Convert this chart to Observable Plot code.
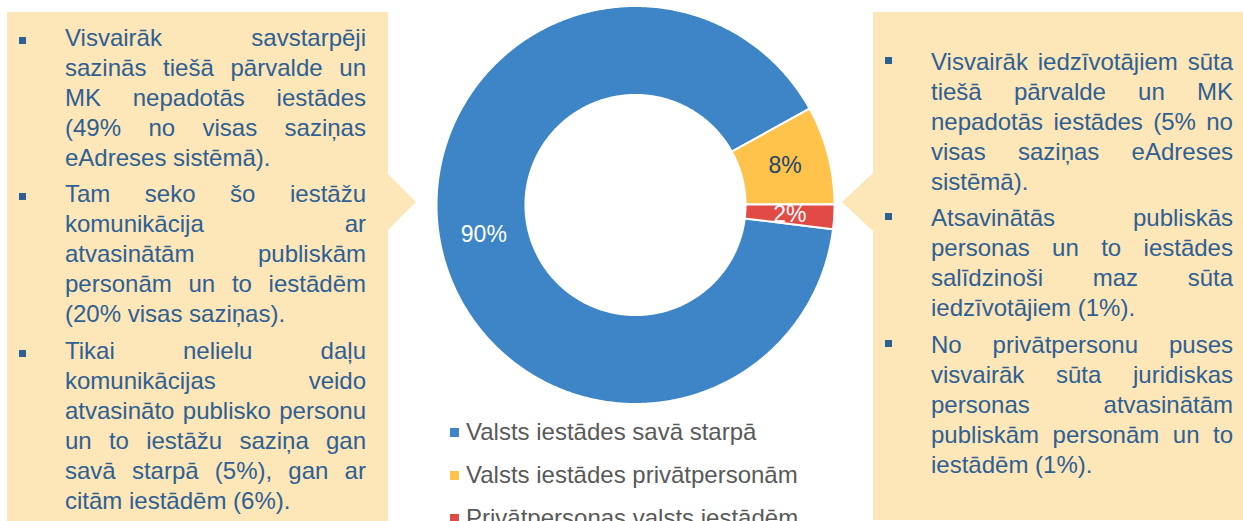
<!DOCTYPE html>
<html><head><meta charset="utf-8">
<script src="https://cdn.jsdelivr.net/npm/d3@7"></script>
<script src="https://cdn.jsdelivr.net/npm/@observablehq/plot@0.6"></script>
<style>
html,body{margin:0;padding:0;background:#fff;}
#wrap{position:relative;width:1243px;height:521px;overflow:hidden;font-family:"Liberation Sans",Arial,sans-serif;}
.box,.arrow{position:absolute;background:#FDE6B8;}
.txt{position:absolute;color:#2E6094;font-size:24px;}
.para{position:relative;margin-bottom:6.5px;}
.line{height:30px;line-height:30px;white-space:nowrap;}
.line.j{display:flex;justify-content:space-between;}
.bullet{position:absolute;width:7px;height:7px;background:#2E6094;}
#plot{position:absolute;left:0;top:0;}
.leg{position:absolute;left:450px;font-size:24px;color:#595959;height:30px;line-height:30px;white-space:nowrap;}
.leg .sw{position:absolute;left:0;top:11px;width:9px;height:9px;}
.leg .lt{position:absolute;left:16px;top:0;}
</style></head>
<body>
<div id="wrap"></div>
<script>
// ---- data ----
const categories = ["Valsts iestādes savā starpā", "Valsts iestādes privātpersonām", "Privātpersonas valsts iestādēm"];
const values = [90, 8, 2];
const labels = ["90%", "8%", "2%"];
const colors = ["#3D85C6", "#FFC24A", "#E24A46"];
const labelColors = ["#ffffff", "#23466B", "#ffffff"];

const leftNotes = [
  ["Visvairāk savstarpēji", "sazinās tiešā pārvalde un", "MK nepadotās iestādes", "(49% no visas saziņas", "eAdreses sistēmā)."],
  ["Tam seko šo iestāžu", "komunikācija ar", "atvasinātām publiskām", "personām un to iestādēm", "(20% visas saziņas)."],
  ["Tikai nelielu daļu", "komunikācijas veido", "atvasināto publisko personu", "un to iestāžu saziņa gan", "savā starpā (5%), gan ar", "citām iestādēm (6%)."]
];
const rightNotes = [
  ["Visvairāk iedzīvotājiem sūta", "tiešā pārvalde un MK", "nepadotās iestādes (5% no", "visas saziņas eAdreses", "sistēmā)."],
  ["Atsavinātās publiskās", "personas un to iestādes", "salīdzinoši maz sūta", "iedzīvotājiem (1%)."],
  ["No privātpersonu puses", "visvairāk sūta juridiskas", "personas atvasinātām", "publiskām personām un to", "iestādēm (1%)."]
];

// ---- layout ----
const wrap = document.getElementById("wrap");
function el(tag, cls, style, text) {
  const e = document.createElement(tag);
  if (cls) e.className = cls;
  if (style) Object.assign(e.style, style);
  if (text != null) e.textContent = text;
  return e;
}
// callout boxes
wrap.appendChild(el("div", "box", {left: "7px", top: "12px", width: "381px", height: "520px"}));
wrap.appendChild(el("div", "arrow", {left: "387px", top: "173px", width: "29px", height: "58px", clipPath: "polygon(0 0, 100% 50%, 0 100%)"}));
wrap.appendChild(el("div", "box", {left: "873px", top: "12px", width: "380px", height: "508px"}));
wrap.appendChild(el("div", "arrow", {left: "842px", top: "172px", width: "32px", height: "60px", clipPath: "polygon(100% 0, 0 50%, 100% 100%)"}));

function notes(paras, left, top, width, bulletX, bulletDy) {
  const t = el("div", "txt", {left: left + "px", top: top + "px", width: width + "px"});
  paras.forEach(lines => {
    const p = el("div", "para");
    const b = el("div", "bullet", {left: (bulletX - left) + "px", top: bulletDy + "px"});
    p.appendChild(b);
    lines.forEach((ln, i) => {
      const last = i === lines.length - 1;
      const d = el("div", "line" + (last ? "" : " j"));
      if (last) d.textContent = ln;
      else ln.split(" ").forEach(w => d.appendChild(el("span", null, null, w)));
      p.appendChild(d);
    });
    t.appendChild(p);
  });
  wrap.appendChild(t);
}
notes(leftNotes, 65, 22.7, 301, 19, 14);
notes(rightNotes, 931, 46.7, 302, 885, 10);

// ---- donut via Plot ----
const cx = 635, cy = 204.5, R = 199, inner = 0.553, startDeg = 97;
const data = categories.map((c, i) => ({key: c, value: values[i], label: labels[i], lc: labelColors[i]}));
const arcs = d3.pie().sort(null).value(d => d.value)
  .startAngle(startDeg * Math.PI / 180).endAngle(startDeg * Math.PI / 180 + 2 * Math.PI)(data);

const ring = [];
arcs.forEach(a => {
  const n = Math.max(2, Math.ceil((a.endAngle - a.startAngle) / (Math.PI / 360)));
  for (let k = 0; k <= n; k++) {
    const t = a.startAngle + (a.endAngle - a.startAngle) * k / n;
    ring.push({key: a.data.key, x: Math.sin(t), y: Math.cos(t)});
  }
  for (let k = n; k >= 0; k--) {
    const t = a.startAngle + (a.endAngle - a.startAngle) * k / n;
    ring.push({key: a.data.key, x: inner * Math.sin(t), y: inner * Math.cos(t)});
  }
});
const mid = (1 + inner) / 2;
const labelPts = arcs.map(a => {
  const t = (a.startAngle + a.endAngle) / 2;
  return {x: mid * Math.sin(t), y: mid * Math.cos(t), label: a.data.label, lc: a.data.lc};
});

const chart = Plot.plot({
  width: 1243,
  height: 521,
  x: {domain: [-1, 1], range: [cx - R, cx + R], axis: null},
  y: {domain: [-1, 1], range: [cy + R, cy - R], axis: null},
  color: {domain: categories, range: colors},
  style: {background: "transparent", fontFamily: "Liberation Sans, Arial, sans-serif"},
  marks: [
    Plot.line(ring, {x: "x", y: "y", z: "key", fill: "key", stroke: "white", strokeWidth: 2, curve: "linear-closed"}),
    Plot.text(labelPts.filter(d => d.lc === "#ffffff"), {x: "x", y: "y", text: "label", fill: "#ffffff", fontSize: 23}),
    Plot.text(labelPts.filter(d => d.lc !== "#ffffff"), {x: "x", y: "y", text: "label", fill: "#23466B", fontSize: 23})
  ]
});
chart.id = "plot";
wrap.insertBefore(chart, wrap.firstChild);

// ---- legend below the donut ----
categories.forEach((c, i) => {
  const row = el("div", "leg", {top: (417.4 + 43 * i) + "px"});
  row.appendChild(el("div", "sw", {background: colors[i]}));
  row.appendChild(el("div", "lt", null, c));
  wrap.appendChild(row);
});
</script>
</body></html>
